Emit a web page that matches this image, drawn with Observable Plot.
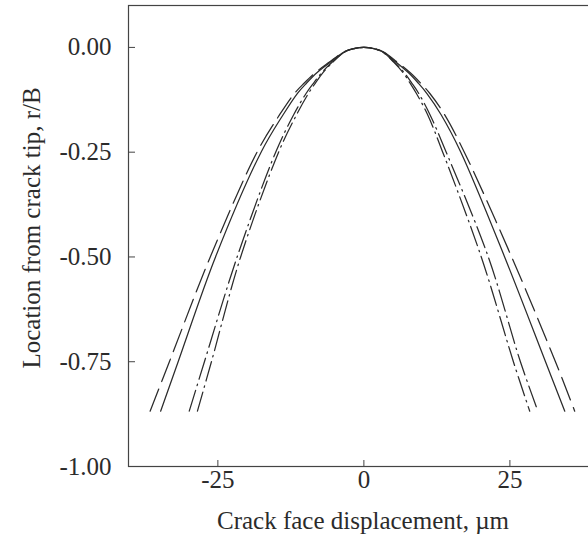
<!DOCTYPE html>
<html>
<head>
<meta charset="utf-8">
<script src="https://cdn.jsdelivr.net/npm/d3@7"></script>
<script src="https://cdn.jsdelivr.net/npm/@observablehq/plot@0.6"></script>
<style>
  html, body { margin: 0; padding: 0; background: #fff; overflow: hidden; width: 588px; height: 550px; }
  #chart { width: 600px; }
</style>
</head>
<body>
<div id="chart"></div>
<script>
// Location levels r/B (apex -> bottom), shared by every curve
const yLevels = [0, -0.003, -0.011, -0.035, -0.06, -0.085, -0.11, -0.16, -0.25, -0.5, -0.75, -0.868];

// Crack face displacement (µm) at those levels, left flank and right flank
const longDashLeft  = [0, -1.8, -3.5, -5.9, -8.3, -10.2, -11.9, -14.4, -18.3, -26.3, -33.3, -36.6];
const longDashRight = [0,  1.8,  3.4,  5.7,  7.9,   9.7,  11.3,  13.8,  17.2,  25.3,  32.8,  36.1];
const solidLeft     = [0, -1.7, -3.4, -5.7, -8.0,  -9.8, -11.4, -13.8, -17.6, -25.4, -31.8, -34.8];
const solidRight    = [0,  1.7,  3.3,  5.5,  7.6,   9.3,  10.8,  13.2,  16.6,  24.1,  31.1,  34.4];
const dashDotLeft   = [0, -1.7, -3.3, -5.4, -7.2,  -8.6,  -9.9, -12.0, -15.1, -21.7, -27.3, -29.9];
const dashDotRight  = [0,  1.7,  3.2,  5.2,  6.9,   8.2,   9.4,  11.3,  14.1,  21.3,  26.8,  29.8];
const dashLeft      = [0, -1.7, -3.3, -5.3, -7.0,  -8.3,  -9.5, -11.5, -14.6, -21.1, -26.1, -28.5];
const dashRight     = [0,  1.7,  3.2,  5.1,  6.7,   7.9,   9.0,  10.9,  13.5,  20.1,  25.6,  28.4];

const seriesNames = ["longDash", "solid", "dashDot", "dash"];
const xTicks = [-25, 0, 25];
const yTicks = [0, -0.25, -0.5, -0.75, -1];
const xLabel = "Crack face displacement, µm";
const yLabel = "Location from crack tip, r/B";

function buildCurve(name, left, right) {
  const pts = [];
  for (let i = left.length - 1; i >= 1; i--) pts.push({series: name, x: left[i], y: yLevels[i]});
  pts.push({series: name, x: left[0], y: yLevels[0]});
  for (let i = 1; i < right.length; i++) pts.push({series: name, x: right[i], y: yLevels[i]});
  return pts;
}
const curves = {
  longDash: buildCurve("longDash", longDashLeft, longDashRight),
  solid: buildCurve("solid", solidLeft, solidRight),
  dashDot: buildCurve("dashDot", dashDotLeft, dashDotRight),
  dash: buildCurve("dash", dashLeft, dashRight)
};
const dashes = {longDash: "24,8", solid: null, dashDot: "22,5,1.5,5", dash: "20,5,1.5,5"};

const ink = "#2b2b2b";
const font = "'Liberation Serif', 'DejaVu Serif', serif";

const plot = Plot.plot({
  width: 600,
  height: 550,
  marginLeft: 128,
  marginRight: 3,
  marginTop: 5,
  marginBottom: 84,
  style: {fontFamily: font, fontSize: "25px", color: ink, background: "#fff", overflow: "visible"},
  x: {domain: [-40.3, 40]},
  y: {domain: [-1, 0.1]},
  marks: [
    Plot.frame({stroke: "#444", strokeWidth: 1.2}),
    Plot.axisY(yTicks, {tickSize: 0, tickPadding: 17, tickFormat: d => d3.format(".2f")(d).replace("−", "-"), label: null, fill: ink}),
    Plot.axisY(yTicks, {tickSize: -7, tickFormat: () => "", label: null, stroke: "#444"}),
    Plot.axisX(xTicks, {tickSize: 0, tickPadding: 4, tickFormat: d => String(d).replace("−", "-"), label: null, fill: ink}),
    Plot.axisX(xTicks, {tickSize: -6, tickFormat: () => "", label: null, stroke: "#444"}),
    ...seriesNames.map(name => Plot.line(curves[name], {
      x: "x", y: "y", stroke: ink, strokeWidth: 1.25, strokeDasharray: dashes[name], curve: "catmull-rom"
    })),
    Plot.text([xLabel], {text: d => d, frameAnchor: "bottom", textAnchor: "middle", dy: 62, fill: ink, fontSize: 25}),
    Plot.text([yLabel], {text: d => d, frameAnchor: "left", textAnchor: "middle", lineAnchor: "middle", rotate: -90, dx: -97, dy: -8, fill: ink, fontSize: 25})
  ]
});
document.getElementById("chart").appendChild(plot);
</script>
</body>
</html>
